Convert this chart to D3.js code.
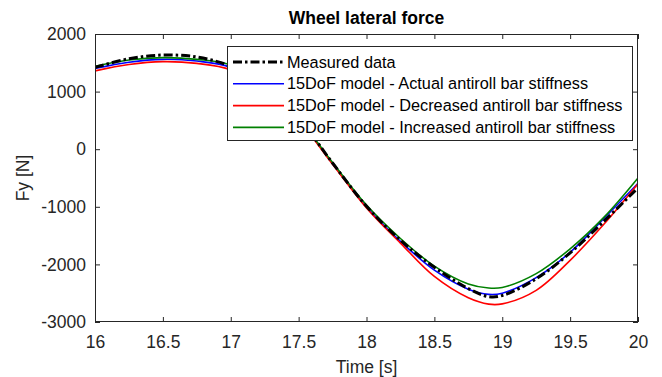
<!DOCTYPE html>
<html><head><meta charset="utf-8">
<script src="https://cdn.jsdelivr.net/npm/d3@7"></script>
<style>body{margin:0;background:#fff;}svg{display:block;font-family:"Liberation Sans",Arial,sans-serif;}</style>
</head><body>
<script>
const time = [16.0,16.25,16.5,16.75,17.0,17.25,17.5,17.75,18.0,18.25,18.5,18.75,18.9,19.0,19.25,19.5,19.75,20.0];
const measured  = [1420,1570,1635,1600,1440,1100,540,-240,-990,-1580,-2050,-2420,-2560,-2540,-2250,-1800,-1250,-670];
const actual    = [1400,1510,1560,1530,1420,1060,520,-250,-1000,-1600,-2100,-2430,-2520,-2500,-2230,-1790,-1200,-590];
const decreased = [1360,1470,1520,1490,1380,1040,500,-260,-1020,-1630,-2210,-2580,-2690,-2685,-2450,-1930,-1300,-600];
const increased = [1440,1550,1590,1560,1460,1080,530,-230,-970,-1550,-2030,-2340,-2410,-2400,-2160,-1730,-1180,-500];
const xTicks = [16,16.5,17,17.5,18,18.5,19,19.5,20];
const yTicks = [2000,1000,0,-1000,-2000,-3000];
const seriesNames = ["Measured data","15DoF model - Actual antiroll bar stiffness","15DoF model - Decreased antiroll bar stiffness","15DoF model - Increased antiroll bar stiffness"];

const W=662,H=377;
const m={l:95,r:24,t:34,b:55};
const svg=d3.select("body").append("svg").attr("width",W).attr("height",H);
const x=d3.scaleLinear().domain([16,20]).range([m.l,W-m.r]);
const y=d3.scaleLinear().domain([-3000,2000]).range([H-m.b,m.t]);
const axisColor="#262626";

const series=[
 {name:seriesNames[0],v:measured,color:"#000",w:3,dash:"9,3,2.5,3"},
 {name:seriesNames[1],v:actual,color:"#0000ff",w:1.6},
 {name:seriesNames[2],v:decreased,color:"#ff0000",w:1.6},
 {name:seriesNames[3],v:increased,color:"#008000",w:1.6}
];
const line=d3.line().x(d=>x(d[0])).y(d=>y(d[1])).curve(d3.curveCatmullRom.alpha(0.5));
const g=svg.append("g");
g.append("defs").append("clipPath").attr("id","clip").append("rect")
 .attr("x",m.l).attr("y",m.t).attr("width",W-m.r-m.l).attr("height",H-m.b-m.t);
const plot=g.append("g").attr("clip-path","url(#clip)");
[series[1],series[2],series[3],series[0]].forEach(s=>{
  plot.append("path").datum(time.map((t,i)=>[t,s.v[i]]))
   .attr("d",line).attr("fill","none").attr("stroke",s.color)
   .attr("stroke-width",s.w).attr("stroke-dasharray",s.dash||null);
});

function styleAxis(sel,showText){
  sel.select(".domain").remove();
  sel.selectAll("line").attr("stroke",axisColor).attr("stroke-width",1);
  sel.selectAll("text").attr("fill",axisColor).style("font-size","17.5px");
  if(!showText) sel.selectAll("text").remove();
}
const fmt=d=>String(d);
svg.append("g").attr("transform",`translate(0,${H-m.b})`)
 .call(d3.axisBottom(x).tickValues(xTicks).tickSize(-5).tickPadding(14).tickFormat(fmt)).call(s=>styleAxis(s,true));
svg.append("g").attr("transform",`translate(0,${m.t})`)
 .call(d3.axisTop(x).tickValues(xTicks).tickSize(-5).tickFormat(fmt)).call(s=>styleAxis(s,false));
svg.append("g").attr("transform",`translate(${m.l},0)`)
 .call(d3.axisLeft(y).tickValues(yTicks).tickSize(-5).tickPadding(9).tickFormat(fmt)).call(s=>styleAxis(s,true));
svg.append("g").attr("transform",`translate(${W-m.r},0)`)
 .call(d3.axisRight(y).tickValues(yTicks).tickSize(-5).tickFormat(fmt)).call(s=>styleAxis(s,false));
svg.append("rect").attr("x",m.l+0.5).attr("y",m.t+0.5).attr("width",W-m.r-m.l-1).attr("height",H-m.b-m.t-1)
 .attr("fill","none").attr("stroke",axisColor).attr("stroke-width",1);

svg.append("text").attr("x",(m.l+W-m.r)/2).attr("y",24).attr("text-anchor","middle")
 .style("font-size","17.5px").style("font-weight","bold").attr("fill","#000").text("Wheel lateral force");
svg.append("text").attr("x",(m.l+W-m.r)/2).attr("y",373).attr("text-anchor","middle")
 .style("font-size","17.5px").attr("fill",axisColor).text("Time [s]");
svg.append("text").attr("transform",`translate(29,${(m.t+H-m.b)/2}) rotate(-90)`).attr("text-anchor","middle")
 .style("font-size","17.5px").attr("fill",axisColor).text("Fy [N]");

const lg=svg.append("g");
const lx=227,ly=46,lw=405,lh=94;
lg.append("rect").attr("x",lx+0.5).attr("y",ly+0.5).attr("width",lw).attr("height",lh)
 .attr("fill","#fff").attr("stroke",axisColor).attr("stroke-width",1);
series.forEach((s,i)=>{
  const yy=ly+16+i*21.8;
  lg.append("line").attr("x1",lx+6).attr("x2",lx+57).attr("y1",yy).attr("y2",yy)
   .attr("stroke",s.color).attr("stroke-width",s.w).attr("stroke-dasharray",s.dash||null);
  lg.append("text").attr("x",lx+60).attr("y",yy+5.5).style("font-size","16.3px").attr("fill","#000").text(s.name);
});
</script>
</body></html>
